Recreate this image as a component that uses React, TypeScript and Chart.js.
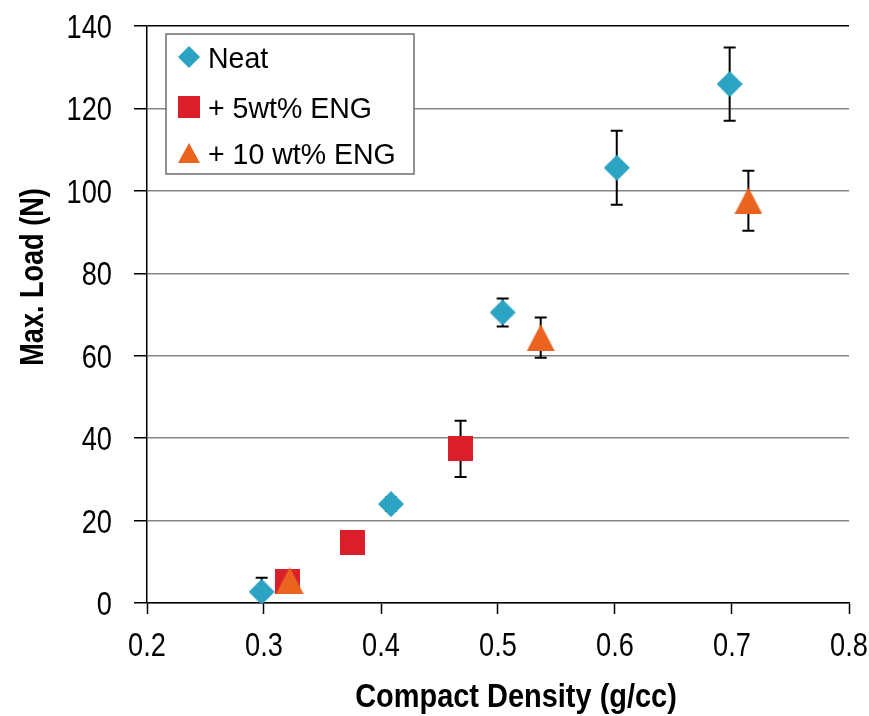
import React, { useEffect, useRef } from "react";
import { Chart, registerables } from "chart.js";

Chart.register(...registerables);

// Compact density (g/cc), max load (N) and its error (± N) for each formulation
const neatDensity = [0.298, 0.4085, 0.504, 0.6015, 0.698];
const neatLoad = [2.7, 24.0, 70.5, 105.6, 125.9];
const neatErr = [3.4, 1.6, 3.4, 9.0, 8.9];

const eng5Density = [0.32, 0.3755, 0.468];
const eng5Load = [5.2, 14.6, 37.4];
const eng5Err = [0, 0, 6.8];

const eng10Density = [0.322, 0.5365, 0.714];
const eng10Load = [5.4, 64.4, 97.6];
const eng10Err = [0, 4.9, 7.3];

const seriesLabels = ["Neat", "+ 5wt% ENG", "+ 10 wt% ENG"];
const xTicks = [0.2, 0.3, 0.4, 0.5, 0.6, 0.7, 0.8];
const yTicks = [0, 20, 40, 60, 80, 100, 120, 140];
const xTitle = "Compact Density (g/cc)";
const yTitle = "Max. Load (N)";

const COLORS = ["#2aa4c2", "#da1f2b", "#ea641f"];
const FAMILY = "'Liberation Sans', Arial, sans-serif";

type Shape = "diamond" | "square" | "triangle";

function makeMarker(shape: Shape, color: string, w: number, h: number): HTMLCanvasElement {
  const c = document.createElement("canvas");
  c.width = w;
  c.height = h;
  const ctx = c.getContext("2d")!;
  ctx.fillStyle = color;
  ctx.beginPath();
  if (shape === "diamond") {
    ctx.moveTo(w / 2, 0);
    ctx.lineTo(w, h / 2);
    ctx.lineTo(w / 2, h);
    ctx.lineTo(0, h / 2);
  } else if (shape === "square") {
    ctx.rect(0, 0, w, h);
  } else {
    ctx.moveTo(w / 2, 0);
    ctx.lineTo(w, h);
    ctx.lineTo(0, h);
  }
  ctx.closePath();
  ctx.fill();
  return c;
}

// Draws horizontally condensed text (narrow sans look)
function condensedText(
  ctx: CanvasRenderingContext2D,
  text: string,
  x: number,
  y: number,
  font: string,
  sx: number,
  align: CanvasTextAlign,
  rotate = false
) {
  ctx.save();
  ctx.translate(x, y);
  if (rotate) ctx.rotate(-Math.PI / 2);
  ctx.scale(sx, 1);
  ctx.font = font;
  ctx.fillStyle = "#000";
  ctx.textAlign = align;
  ctx.textBaseline = "alphabetic";
  ctx.fillText(text, 0, 0);
  ctx.restore();
}

const errorBars = {
  id: "errorBars",
  beforeDatasetsDraw(chart: any) {
    const { ctx, chartArea, scales } = chart;
    const errs = [neatErr, eng5Err, eng10Err];
    ctx.save();
    ctx.beginPath();
    ctx.rect(chartArea.left, chartArea.top - 2, chartArea.right - chartArea.left, chartArea.bottom - chartArea.top + 2);
    ctx.clip();
    ctx.strokeStyle = "#000";
    ctx.lineWidth = 2;
    chart.data.datasets.forEach((ds: any, i: number) => {
      ds.data.forEach((p: any, j: number) => {
        const e = errs[i][j];
        if (!e) return;
        const x = scales.x.getPixelForValue(p.x);
        const yTop = scales.y.getPixelForValue(p.y + e);
        const yBot = scales.y.getPixelForValue(p.y - e);
        ctx.beginPath();
        ctx.moveTo(x, yTop);
        ctx.lineTo(x, yBot);
        ctx.moveTo(x - 6, yTop);
        ctx.lineTo(x + 6, yTop);
        ctx.moveTo(x - 6, yBot);
        ctx.lineTo(x + 6, yBot);
        ctx.stroke();
      });
    });
    ctx.restore();
  },
};

const axisText = {
  id: "axisText",
  afterDraw(chart: any) {
    const { ctx, scales, chartArea } = chart;
    const tickFont = `34px ${FAMILY}`;
    scales.y.ticks.forEach((t: any) => {
      const y = scales.y.getPixelForValue(t.value);
      condensedText(ctx, String(t.value), chartArea.left - 35, y + 12, tickFont, 0.8, "right");
    });
    scales.x.ticks.forEach((t: any) => {
      const x = scales.x.getPixelForValue(t.value);
      condensedText(ctx, Number(t.value).toFixed(1), x, chartArea.bottom + 53, tickFont, 0.8, "center");
    });
    const titleFont = `bold 33px ${FAMILY}`;
    condensedText(ctx, xTitle, 516, chartArea.bottom + 104, titleFont, 0.877, "center");
    condensedText(ctx, yTitle, 43, 277, titleFont, 0.82, "center", true);
  },
};

const insetLegend = {
  id: "insetLegend",
  afterDraw(chart: any) {
    const { ctx, chartArea } = chart;
    const left = chartArea.left + 19;
    const top = chartArea.top + 8;
    const w = 248;
    const h = 140;
    ctx.save();
    ctx.fillStyle = "#fff";
    ctx.fillRect(left, top, w, h);
    ctx.strokeStyle = "#6e6e6e";
    ctx.lineWidth = 1.5;
    ctx.strokeRect(left, top, w, h);
    ctx.restore();
    const rows = [23, 73, 119];
    const markers = [
      makeMarker("diamond", COLORS[0], 22, 22),
      makeMarker("square", COLORS[1], 22, 22),
      makeMarker("triangle", COLORS[2], 22, 20),
    ];
    chart.data.datasets.forEach((ds: any, i: number) => {
      const cy = top + rows[i];
      const m = markers[i];
      ctx.drawImage(m, left + 23 - m.width / 2, cy - m.height / 2);
      condensedText(ctx, ds.label, left + 42, cy + 11, `30px ${FAMILY}`, 0.95, "left");
    });
  },
};

export default function App() {
  const canvasRef = useRef<HTMLCanvasElement>(null);

  useEffect(() => {
    document.body.style.margin = "0";
    const canvas = canvasRef.current!;
    const toPoints = (xs: number[], ys: number[]) => xs.map((x, i) => ({ x, y: ys[i] }));

    const chart = new Chart(canvas, {
      type: "scatter",
      data: {
        datasets: [
          {
            label: seriesLabels[0],
            data: toPoints(neatDensity, neatLoad),
            pointStyle: makeMarker("diamond", COLORS[0], 26, 26) as any,
            backgroundColor: COLORS[0],
            borderColor: COLORS[0],
            order: 3,
          },
          {
            label: seriesLabels[1],
            data: toPoints(eng5Density, eng5Load),
            pointStyle: makeMarker("square", COLORS[1], 25, 25) as any,
            backgroundColor: COLORS[1],
            borderColor: COLORS[1],
            order: 2,
          },
          {
            label: seriesLabels[2],
            data: toPoints(eng10Density, eng10Load),
            pointStyle: makeMarker("triangle", COLORS[2], 28, 27) as any,
            backgroundColor: COLORS[2],
            borderColor: COLORS[2],
            order: 1,
          },
        ],
      },
      options: {
        animation: false,
        responsive: false,
        layout: { padding: { top: 26, right: 20, left: 0, bottom: 0 } },
        plugins: {
          legend: { display: false },
          tooltip: { enabled: false },
        },
        scales: {
          x: {
            type: "linear",
            min: 0.2,
            max: 0.8,
            afterBuildTicks: (scale: any) => {
              scale.ticks = xTicks.map((v) => ({ value: v }));
            },
            afterFit: (scale: any) => {
              scale.height = 113;
            },
            ticks: { display: false },
            grid: {
              drawOnChartArea: false,
              drawTicks: true,
              tickLength: 11,
              tickColor: "#000",
              tickWidth: 1.5,
            },
            border: { color: "#000", width: 1.5 },
          },
          y: {
            type: "linear",
            min: 0,
            max: 140,
            afterBuildTicks: (scale: any) => {
              scale.ticks = yTicks.map((v) => ({ value: v }));
            },
            afterFit: (scale: any) => {
              scale.width = 147;
            },
            ticks: { display: false },
            grid: {
              color: (c: any) => (c.tick && c.tick.value === 140 ? "#000" : "#858585"),
              lineWidth: 1.5,
              drawTicks: true,
              tickLength: 13,
              tickColor: "#000",
              tickWidth: 1.5,
            },
            border: { color: "#000", width: 1.5 },
          },
        },
      },
      plugins: [errorBars, axisText, insetLegend],
    });

    return () => chart.destroy();
  }, []);

  return (
    <div style={{ width: 869, height: 716, background: "#fff" }}>
      <canvas ref={canvasRef} width={869} height={716} />
    </div>
  );
}
